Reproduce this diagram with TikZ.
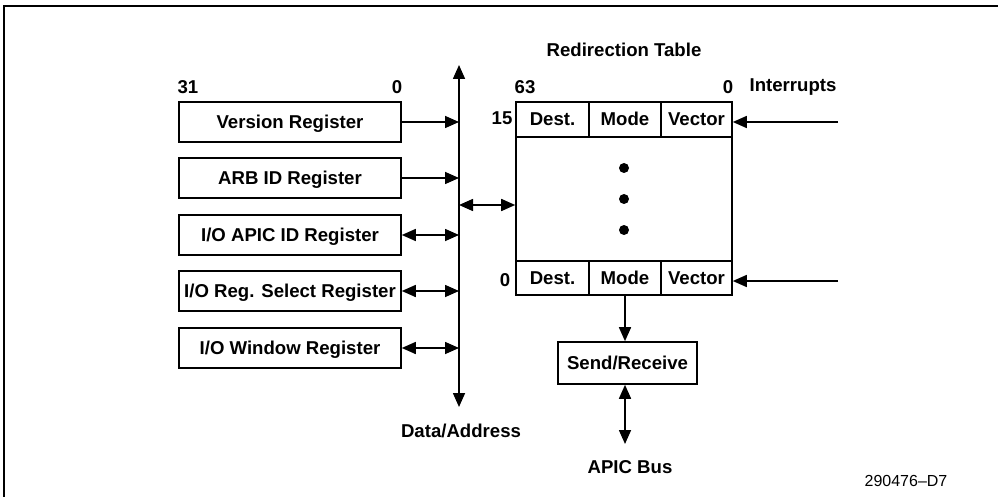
\documentclass[tikz,border=0pt]{standalone}
\usepackage{fontspec}
\setmainfont{Liberation Sans}
\usetikzlibrary{arrows.meta}
\begin{document}
\begin{tikzpicture}[x=1pt,y=-1pt,
  lw/.style={line width=1.6pt},
  bf/.style={font=\bfseries\fontsize{18.6}{21}\selectfont},
  txt/.style={bf,text height=13.3pt,text depth=0.3pt},
  reg/.style={draw,lw,txt,minimum width=222pt,minimum height=40pt,inner sep=0pt},
  cell/.style={draw,lw,txt,minimum height=35pt,inner sep=0pt},
  lbl/.style={bf,inner sep=0pt},
  dotnode/.style={circle,fill=black,minimum size=10pt,inner sep=0pt},
  arr/.style={lw,-{Triangle[length=14pt,width=12pt]}},
  dbl/.style={lw,{Triangle[length=14pt,width=12pt]}-{Triangle[length=14pt,width=12pt]}}]
\useasboundingbox (0,0) rectangle (998,497);
\draw[line width=2pt] (998,6) -- (4,6) -- (4,497);
% registers
\node[reg] (ver) at (290,122) {Version Register};
\node[reg] (arb) at (290,178) {ARB ID Register};
\node[reg] (apicid) at (290,235) {I/O APIC ID Register};
\node[reg] (regsel) at (290,291) {I/O Reg. Select Register};
\node[reg] (win) at (290,348) {I/O Window Register};
\node[lbl] (l31) at (188,87) {31};
\node[lbl] (l0a) at (397,87) {0};
% bus
\coordinate (busTop) at (459,65);
\coordinate (busBot) at (459,407);
\draw[dbl] (busBot) -- (busTop);
\node[lbl] (data) at (461,431) {Data/Address};
\draw[arr] (ver.east) -- (ver.east -| busTop);
\draw[arr] (arb.east) -- (arb.east -| busTop);
\draw[dbl] (apicid.east) -- (apicid.east -| busTop);
\draw[dbl] (regsel.east) -- (regsel.east -| busTop);
\draw[dbl] (win.east) -- (win.east -| busTop);
% redirection table
\node[lbl] (rt) at (624,50) {Redirection Table};
\node[lbl] (l63) at (525,87) {63};
\node[lbl] (l0b) at (728,87) {0};
\node[lbl] (intr) at (793,87) {Interrupts};
\node[cell,minimum width=73pt] (d15) at (552.5,119.5) {Dest.};
\node[cell,minimum width=72pt] (m15) at (625,119.5) {Mode};
\node[cell,minimum width=71pt] (v15) at (696.5,119.5) {Vector};
\node[draw,lw,minimum width=216pt,minimum height=124pt,inner sep=0pt] (body) at (624,199) {};
\node[cell,minimum width=73pt,minimum height=34pt] (d0) at (552.5,278) {Dest.};
\node[cell,minimum width=72pt,minimum height=34pt] (m0) at (625,278) {Mode};
\node[cell,minimum width=71pt,minimum height=34pt] (v0) at (696.5,278) {Vector};
\node[dotnode] (dot1) at (624,168) {};
\node[dotnode] (dot2) at (624,199) {};
\node[dotnode] (dot3) at (624,230) {};
\node[lbl] (l15) at (502,118) {15};
\node[lbl] (l0c) at (505,280) {0};
\coordinate (bt) at (459,205);
\draw[dbl] (bt) -- (bt -| body.west);
\coordinate (i15) at (838,122);
\coordinate (i0) at (838,281);
\draw[arr] (i15) -- (i15 -| v15.east);
\draw[arr] (i0) -- (i0 -| v0.east);
% send/receive
\node[draw,lw,txt,minimum width=139pt,minimum height=42pt,inner sep=0pt] (sr) at (627.5,363) {Send/Receive};
\draw[arr] (m0.south) -- (m0.south |- sr.north);
\coordinate (apic) at (625,444);
\draw[dbl] (apic |- sr.south) -- (apic);
\node[lbl] (apicbus) at (630,467) {APIC Bus};
\node[inner sep=0pt,font=\fontsize{16}{18}\selectfont] (fig) at (906,481) {290476–D7};
\end{tikzpicture}
\end{document}
